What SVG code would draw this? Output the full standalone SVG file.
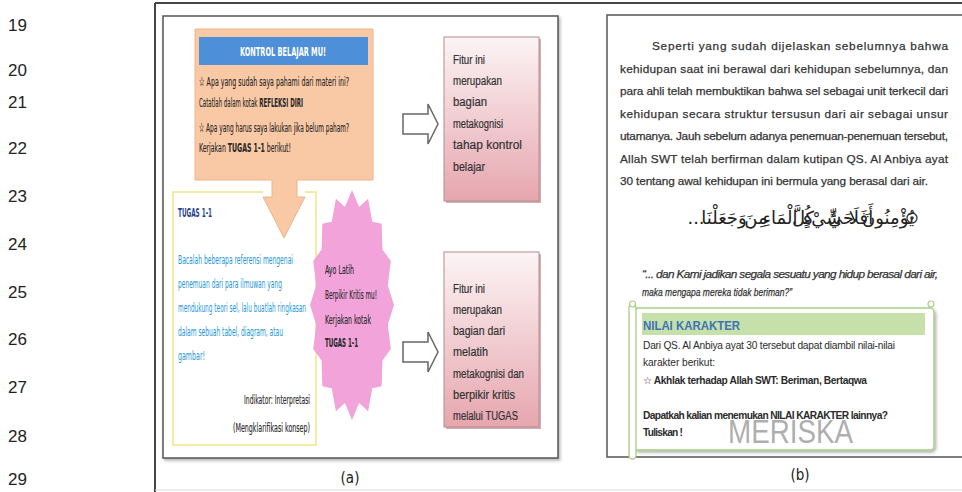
<svg xmlns="http://www.w3.org/2000/svg" width="962" height="492" viewBox="0 0 962 492">
<style>
.num{font-family:"Liberation Sans","DejaVu Sans",sans-serif;font-size:17px;fill:#222}
.nar{font-family:"Liberation Sans Narrow","DejaVu Sans Condensed","Liberation Sans",sans-serif;font-stretch:condensed}
.dk{fill:#2a2a2a;font-size:13px;stroke:#2a2a2a;stroke-width:0.15}
.gth{font-family:"Liberation Sans","DejaVu Sans",sans-serif;font-size:12px;fill:#333;stroke:#333;stroke-width:0.2}
.tb{fill:#1e96d8;font-size:13px}
.frame{fill:#fff;stroke:#555;stroke-width:1.5}
.arrow{fill:#fff;stroke:#666;stroke-width:1.5;stroke-linejoin:miter}
.pbox{fill:url(#pinkg);stroke:#b88a90;stroke-width:1}
.para{font-family:"Liberation Sans","DejaVu Sans",sans-serif;font-size:11.8px;fill:#333;stroke:#333;stroke-width:0.25}
.ar{font-family:"DejaVu Sans",sans-serif;font-size:18px;fill:#222;text-anchor:middle}
.nk{font-family:"Liberation Sans","DejaVu Sans",sans-serif;font-size:10.2px;fill:#2b2b2b}
</style>
<defs>
<linearGradient id="pinkg" x1="0" y1="0" x2="0" y2="1">
<stop offset="0" stop-color="#fcf4f5"/>
<stop offset="1" stop-color="#e6a6ae"/>
</linearGradient>
<filter id="sh" x="-10%" y="-10%" width="130%" height="130%">
<feDropShadow dx="1.5" dy="2" stdDeviation="1.5" flood-color="#000" flood-opacity="0.3"/>
</filter>
</defs>

<g id="line-numbers">
<text class="num" x="8" y="31">19</text>
<text class="num" x="8" y="76">20</text>
<text class="num" x="8" y="108">21</text>
<text class="num" x="8" y="154">22</text>
<text class="num" x="8" y="202">23</text>
<text class="num" x="8" y="250">24</text>
<text class="num" x="8" y="298">25</text>
<text class="num" x="8" y="345">26</text>
<text class="num" x="8" y="393">27</text>
<text class="num" x="8" y="442">28</text>
<text class="num" x="8" y="485">29</text>
</g>

<g id="outer-frame">
<line x1="155" y1="3" x2="962" y2="3" stroke="#444" stroke-width="2"/>
<line x1="155" y1="3" x2="155" y2="492" stroke="#444" stroke-width="2"/>
<line x1="155" y1="490" x2="962" y2="490" stroke="#ddd" stroke-width="1"/>
</g>

<g id="panel-a">
<rect class="frame" x="163" y="16" width="395" height="442" filter="url(#sh)"/>
</g>

<g id="kontrol-box">
<path d="M195,29 H373 V180 H297 V197 H305 L284,238 L263,197 H272 V180 H195 Z" fill="#f9c8a4" stroke="#f2b489" stroke-width="1"/>
<rect x="199" y="37" width="169" height="28" fill="#4d8fd8"/>
<text class="nar" x="283" y="56" text-anchor="middle" font-size="13" font-weight="bold" fill="#fff" textLength="86" lengthAdjust="spacingAndGlyphs">KONTROL BELAJAR MU!</text>
<text class="nar dk" x="199" y="86" textLength="150" lengthAdjust="spacingAndGlyphs">☆ Apa yang sudah saya pahami dari materi ini?</text>
<text class="nar dk" x="199" y="107" textLength="104" lengthAdjust="spacingAndGlyphs">Catatlah dalam kotak <tspan font-weight="bold">REFLEKSI DIRI</tspan></text>
<text class="nar dk" x="199" y="132" textLength="150" lengthAdjust="spacingAndGlyphs">☆ Apa yang harus saya lakukan jika belum paham?</text>
<text class="nar dk" x="199" y="152" textLength="92" lengthAdjust="spacingAndGlyphs">Kerjakan <tspan font-weight="bold">TUGAS 1-1</tspan> berikut!</text>
</g>

<g id="tugas-box">
<path d="M263,192 H173 V445 H316 V192 H305" fill="none" stroke="#f3e48a" stroke-width="1.5"/>
<text class="nar" x="178" y="217" font-size="13" font-weight="bold" fill="#1f3f8f" textLength="34" lengthAdjust="spacingAndGlyphs">TUGAS 1-1</text>
<text class="nar tb" x="178" y="264" textLength="115" lengthAdjust="spacingAndGlyphs">Bacalah beberapa referensi mengenai</text>
<text class="nar tb" x="178" y="288" textLength="104" lengthAdjust="spacingAndGlyphs">penemuan dari para ilmuwan yang</text>
<text class="nar tb" x="178" y="312" textLength="128" lengthAdjust="spacingAndGlyphs">mendukung teori sel, lalu buatlah ringkasan</text>
<text class="nar tb" x="178" y="336" textLength="105" lengthAdjust="spacingAndGlyphs">dalam sebuah tabel, diagram, atau</text>
<text class="nar tb" x="178" y="360" textLength="27" lengthAdjust="spacingAndGlyphs">gambar!</text>
<text class="nar dk" x="310" y="404" text-anchor="end" textLength="66" lengthAdjust="spacingAndGlyphs">Indikator: Interpretasi</text>
<text class="nar dk" x="310" y="432" text-anchor="end" textLength="77" lengthAdjust="spacingAndGlyphs">(Mengklarifikasi konsep)</text>
</g>

<g id="latih-star">
<polygon fill="#f1a3da" points="352,190 359.1,206.9 368.1,198.8 372.3,221.8 381.7,223.7 382.4,249.4 390.8,261 387.8,285.5 394,305 387.8,324.5 390.8,349 382.4,360.6 381.7,386.3 372.3,388.2 368.1,411.2 359.1,403.1 352,420 344.9,403.1 335.9,411.2 331.7,388.2 322.3,386.3 321.6,360.6 313.2,349 316.2,324.5 310,305 316.2,285.5 313.2,261 321.6,249.4 322.3,223.7 331.7,221.8 335.9,198.8 344.9,206.9"/>
<text class="nar dk" x="325" y="274" textLength="29" lengthAdjust="spacingAndGlyphs">Ayo Latih</text>
<text class="nar dk" x="325" y="299" textLength="52" lengthAdjust="spacingAndGlyphs">Berpikir Kritis mu!</text>
<text class="nar dk" x="325" y="324" textLength="46" lengthAdjust="spacingAndGlyphs">Kerjakan kotak</text>
<text class="nar dk" x="325" y="347" font-weight="bold" textLength="33" lengthAdjust="spacingAndGlyphs">TUGAS 1-1</text>
</g>

<g id="connectors">
<path class="arrow" d="M403,114 H428 V104 L438,124 L428,144 V134 H403 Z"/>
<path class="arrow" d="M403,342 H428 V332 L438,352 L428,372 V362 H403 Z"/>
</g>

<g id="fitur-box-1">
<rect x="446" y="39" width="95" height="164" fill="#b07a80" opacity="0.6"/>
<rect class="pbox" x="444" y="37" width="95" height="164"/>
<text class="gth" x="453" y="64" textLength="32" lengthAdjust="spacingAndGlyphs">Fitur ini</text>
<text class="gth" x="453" y="85" textLength="49" lengthAdjust="spacingAndGlyphs">merupakan</text>
<text class="gth" x="453" y="106" textLength="34" lengthAdjust="spacingAndGlyphs">bagian</text>
<text class="gth" x="453" y="128" textLength="50" lengthAdjust="spacingAndGlyphs">metakognisi</text>
<text class="gth" x="453" y="149" textLength="69" lengthAdjust="spacingAndGlyphs">tahap kontrol</text>
<text class="gth" x="453" y="171" textLength="32" lengthAdjust="spacingAndGlyphs">belajar</text>
</g>

<g id="fitur-box-2">
<rect x="446" y="254" width="95" height="175" fill="#b07a80" opacity="0.6"/>
<rect class="pbox" x="444" y="252" width="95" height="175"/>
<text class="gth" x="453" y="293" textLength="32" lengthAdjust="spacingAndGlyphs">Fitur ini</text>
<text class="gth" x="453" y="314" textLength="49" lengthAdjust="spacingAndGlyphs">merupakan</text>
<text class="gth" x="453" y="335" textLength="52" lengthAdjust="spacingAndGlyphs">bagian dari</text>
<text class="gth" x="453" y="356" textLength="35" lengthAdjust="spacingAndGlyphs">melatih</text>
<text class="gth" x="453" y="378" textLength="71" lengthAdjust="spacingAndGlyphs">metakognisi dan</text>
<text class="gth" x="453" y="399" textLength="62" lengthAdjust="spacingAndGlyphs">berpikir kritis</text>
<text class="gth" x="453" y="420" textLength="65" lengthAdjust="spacingAndGlyphs">melalui TUGAS</text>
</g>

<text class="nar" x="350" y="483" text-anchor="middle" font-size="15" fill="#222">(a)</text>

<g id="panel-b">
<rect class="frame" x="607" y="15" width="360" height="442"/>
<text class="para" x="652" y="50" textLength="296" lengthAdjust="spacing">Seperti yang sudah dijelaskan sebelumnya bahwa</text>
<text class="para" x="620" y="72.5" textLength="328" lengthAdjust="spacing">kehidupan saat ini berawal dari kehidupan sebelumnya, dan</text>
<text class="para" x="620" y="95" textLength="328" lengthAdjust="spacing">para ahli telah membuktikan bahwa sel sebagai unit terkecil dari</text>
<text class="para" x="620" y="117.5" textLength="328" lengthAdjust="spacing">kehidupan secara struktur tersusun dari air sebagai unsur</text>
<text class="para" x="620" y="140" textLength="328" lengthAdjust="spacing">utamanya. Jauh sebelum adanya penemuan-penemuan tersebut,</text>
<text class="para" x="620" y="162.5" textLength="328" lengthAdjust="spacing">Allah SWT telah berfirman dalam kutipan QS. Al Anbiya ayat</text>
<text class="para" x="620" y="185" textLength="308" lengthAdjust="spacing">30 tentang awal kehidupan ini bermula yang berasal dari air.</text>
<g id="ayat">
<text class="ar" x="696" y="224">...</text>
<text class="ar" x="724" y="224">وَجَعَلْنَا</text>
<text class="ar" x="756" y="224">مِنَ</text>
<text class="ar" x="780" y="224">الْمَاءِ</text>
<text class="ar" x="803" y="224">كُلَّ</text>
<text class="ar" x="822" y="224">شَيْءٍ</text>
<text class="ar" x="841" y="224">حَيٍّ</text>
<text class="ar" x="861" y="224">أَفَلَا</text>
<text class="ar" x="888" y="224">يُؤْمِنُونَ</text>
<circle cx="912" cy="218" r="5" fill="none" stroke="#333" stroke-width="1.3"/>
<circle cx="912" cy="218" r="1.8" fill="#333"/>
</g>
<text class="para" x="642" y="278" font-style="italic" font-size="10.5" stroke-width="0.15" textLength="296" lengthAdjust="spacing">“... dan Kami jadikan segala sesuatu yang hidup berasal dari air,</text>
<text class="para" x="642" y="296" font-style="italic" font-size="10.5" stroke-width="0.15" textLength="150" lengthAdjust="spacingAndGlyphs">maka mengapa mereka tidak beriman?”</text>
</g>

<g id="nilai-karakter">
<rect x="634" y="308" width="300" height="142" rx="4" fill="#fff" stroke="#a7cf86" stroke-width="1.5" filter="url(#sh)"/>
<rect x="629" y="304" width="7" height="155" rx="3.5" fill="#fff" stroke="#a7cf86" stroke-width="1.3"/>
<circle cx="632.5" cy="304" r="3" fill="#fff" stroke="#a7cf86" stroke-width="1.2"/>
<circle cx="931" cy="304" r="3" fill="#fff" stroke="#a7cf86" stroke-width="1.2"/>
<rect x="642" y="313" width="283" height="22" fill="#c6e0a9"/>
<text x="643" y="330" font-family="'Liberation Sans',sans-serif" font-size="13" font-weight="bold" fill="#3d72b8" textLength="97" lengthAdjust="spacingAndGlyphs">NILAI KARAKTER</text>
<text class="nk" x="643" y="349" textLength="252" lengthAdjust="spacing">Dari QS. Al Anbiya ayat 30 tersebut dapat diambil nilai-nilai</text>
<text class="nk" x="643" y="366" textLength="72" lengthAdjust="spacing">karakter berikut:</text>
<text class="nk" x="643" y="384" font-weight="bold" textLength="224" lengthAdjust="spacing">☆ Akhlak terhadap Allah SWT: Beriman, Bertaqwa</text>
<text class="nk" x="643" y="419" font-weight="bold" textLength="245" lengthAdjust="spacing">Dapatkah kalian menemukan NILAI KARAKTER lainnya?</text>
<text class="nk" x="643" y="436" font-weight="bold" textLength="40" lengthAdjust="spacing">Tuliskan !</text>
<text x="728" y="443" font-family="'Liberation Sans',sans-serif" font-size="33" fill="#8a8a8a" fill-opacity="0.7" textLength="125" lengthAdjust="spacingAndGlyphs">MERISKA</text>
</g>

<text class="nar" x="800" y="480" text-anchor="middle" font-size="15" fill="#222">(b)</text>
</svg>
